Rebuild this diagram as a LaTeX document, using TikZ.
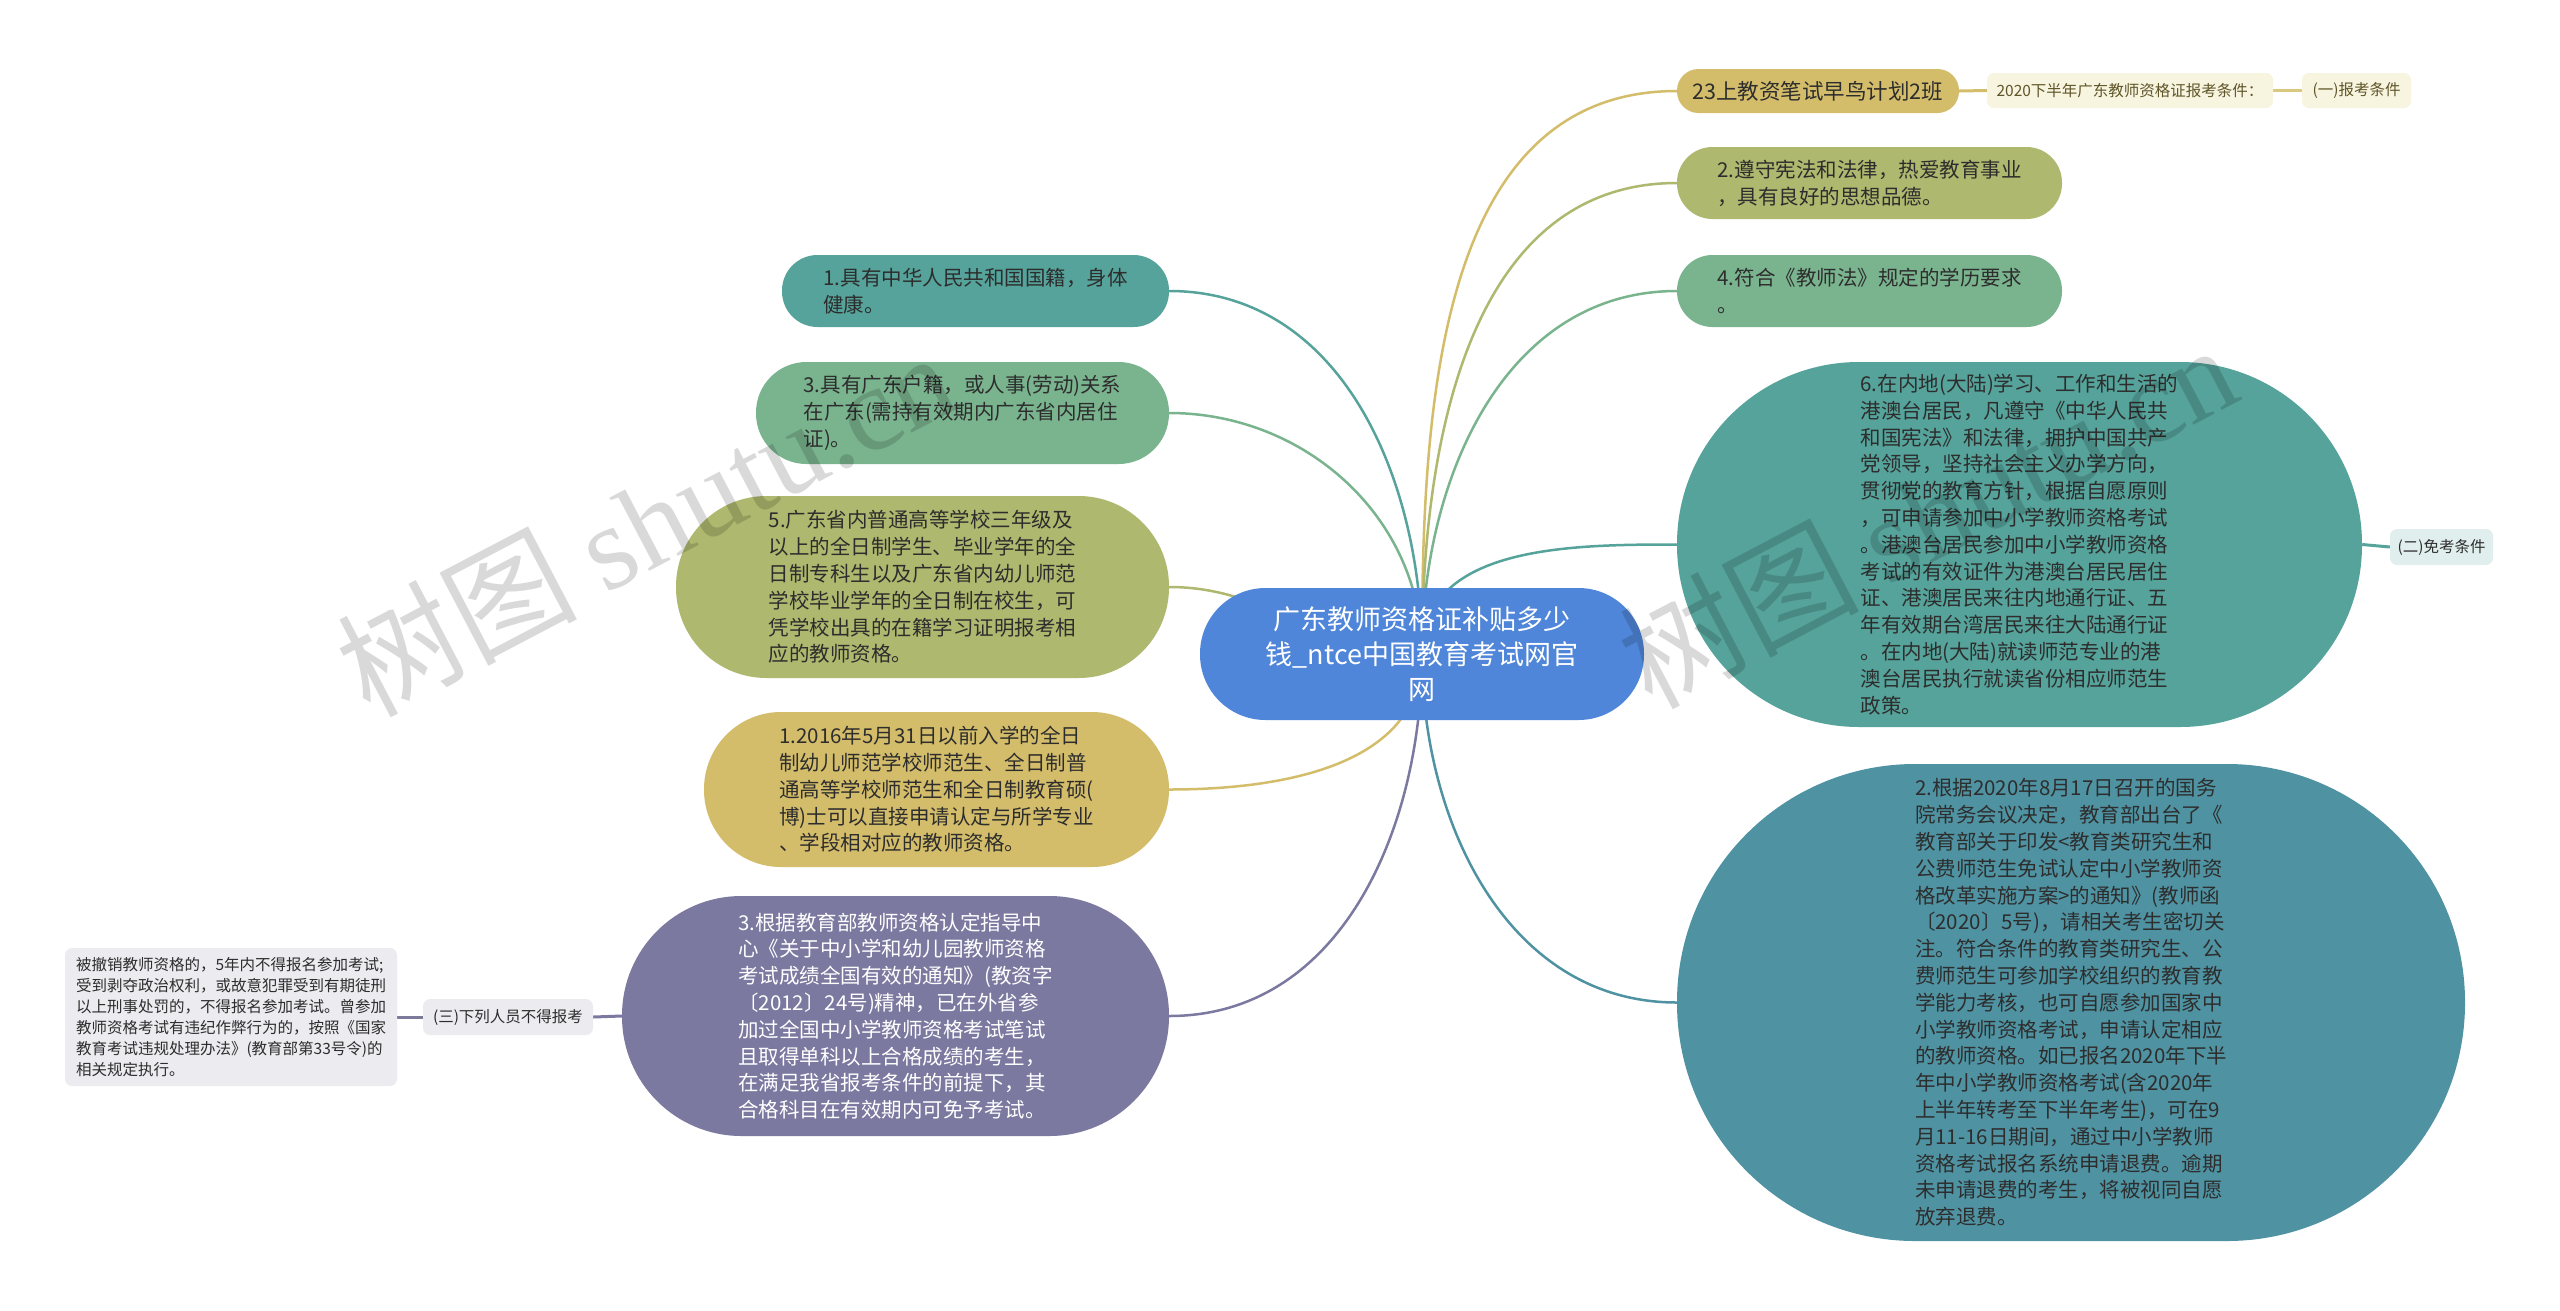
\documentclass[tikz,border=0pt]{standalone}
\usepackage{fontspec}
\setmainfont{Noto Sans CJK SC}
\newfontfamily\wmserif{Liberation Serif}
\usetikzlibrary{backgrounds}
\definecolor{cblue}{RGB}{79,134,217}
\definecolor{cgold}{RGB}{212,189,106}
\definecolor{colive}{RGB}{174,184,110}
\definecolor{cgreen}{RGB}{122,180,143}
\definecolor{cteal}{RGB}{85,163,154}
\definecolor{csteel}{RGB}{79,147,163}
\definecolor{cpurple}{RGB}{123,121,160}
\definecolor{ccream}{RGB}{247,244,224}
\definecolor{clteal}{RGB}{224,238,237}
\definecolor{clgray}{RGB}{235,235,240}
\definecolor{ctext}{RGB}{45,45,45}
\definecolor{coltext}{RGB}{95,85,40}
\tikzset{
  base/.style={rectangle, inner sep=0pt, align=left, text=ctext, font=\fontsize{20.5pt}{26.8pt}\selectfont},
  small/.style={rectangle, inner sep=0pt, align=left, text=ctext, font=\fontsize{15.5pt}{21pt}\selectfont, rounded corners=7pt},
  link/.style={line width=2.5pt},
  wm/.style={rotate=27.7, text=black, opacity=0.15, font=\fontsize{120pt}{120pt}\selectfont},
}
\begin{document}
\begin{tikzpicture}[x=1pt,y=1pt]
\useasboundingbox (0,0) rectangle (2560,-1310);

% central
\node[base, fill=cblue, text=white, align=center, font=\fontsize{27pt}{35pt}\selectfont,
  minimum width=444pt, minimum height=132pt, rounded corners=65.5pt] (c) at (1422,-654)
  {广东教师资格证补贴多少\\钱\_ntce中国教育考试网官\\网};

% right side
\node[base, fill=cgold, font=\fontsize{21.5pt}{26pt}\selectfont, minimum width=282pt, minimum height=44pt, rounded corners=21.5pt]
  (n23) at (1818,-91) {23上教资笔试早鸟计划2班};
\node[small, fill=ccream, text=coltext, minimum width=286pt, minimum height=35pt]
  (n2020) at (2130,-90.5) {2020下半年广东教师资格证报考条件：};
\node[small, fill=ccream, text=coltext, minimum width=109pt, minimum height=35pt]
  (nYi) at (2356.5,-90.5) {(一)报考条件};
\node[base, fill=colive, minimum width=385pt, minimum height=72pt, rounded corners=35.5pt]
  (n2zs) at (1869.5,-183) {2.遵守宪法和法律，热爱教育事业\\，具有良好的思想品德。};
\node[base, fill=cgreen, minimum width=385pt, minimum height=72pt, rounded corners=35.5pt]
  (n4) at (1869.5,-291) {4.符合《教师法》规定的学历要求\\。};
\node[base, fill=cteal, minimum width=685pt, minimum height=365pt, rounded corners=182pt]
  (n6) at (2019.5,-544.5) {6.在内地(大陆)学习、工作和生活的\\港澳台居民，凡遵守《中华人民共\\和国宪法》和法律，拥护中国共产\\党领导，坚持社会主义办学方向，\\贯彻党的教育方针，根据自愿原则\\，可申请参加中小学教师资格考试\\。港澳台居民参加中小学教师资格\\考试的有效证件为港澳台居民居住\\证、港澳居民来往内地通行证、五\\年有效期台湾居民来往大陆通行证\\。在内地(大陆)就读师范专业的港\\澳台居民执行就读省份相应师范生\\政策。};
\node[small, fill=clteal, minimum width=103pt, minimum height=36pt]
  (nEr) at (2441.5,-547) {(二)免考条件};
\node[base, fill=csteel, minimum width=788pt, minimum height=477pt, rounded corners=238pt]
  (n2gj) at (2071,-1002.5) {2.根据2020年8月17日召开的国务\\院常务会议决定，教育部出台了《\\教育部关于印发<教育类研究生和\\公费师范生免试认定中小学教师资\\格改革实施方案>的通知》(教师函\\〔2020〕5号)，请相关考生密切关\\注。符合条件的教育类研究生、公\\费师范生可参加学校组织的教育教\\学能力考核，也可自愿参加国家中\\小学教师资格考试，申请认定相应\\的教师资格。如已报名2020年下半\\年中小学教师资格考试(含2020年\\上半年转考至下半年考生)，可在9\\月11-16日期间，通过中小学教师\\资格考试报名系统申请退费。逾期\\未申请退费的考生，将被视同自愿\\放弃退费。};

% left side
\node[base, fill=cteal, minimum width=387pt, minimum height=72pt, rounded corners=35.5pt]
  (n1jy) at (975.5,-291) {1.具有中华人民共和国国籍，身体\\健康。};
\node[base, fill=cgreen, minimum width=413pt, minimum height=102pt, rounded corners=50.5pt]
  (n3jy) at (962.5,-413) {3.具有广东户籍，或人事(劳动)关系\\在广东(需持有效期内广东省内居住\\证)。};
\node[base, fill=colive, minimum width=493pt, minimum height=182pt, rounded corners=90.5pt]
  (n5) at (922.5,-587) {5.广东省内普通高等学校三年级及\\以上的全日制学生、毕业学年的全\\日制专科生以及广东省内幼儿师范\\学校毕业学年的全日制在校生，可\\凭学校出具的在籍学习证明报考相\\应的教师资格。};
\node[base, fill=cgold, minimum width=465pt, minimum height=155pt, rounded corners=77pt]
  (n2016) at (936.5,-789.5) {1.2016年5月31日以前入学的全日\\制幼儿师范学校师范生、全日制普\\通高等学校师范生和全日制教育硕(\\博)士可以直接申请认定与所学专业\\、学段相对应的教师资格。};
\node[base, fill=cpurple, text=white, minimum width=547pt, minimum height=240pt, rounded corners=119.5pt]
  (n3gj) at (895.5,-1016) {3.根据教育部教师资格认定指导中\\心《关于中小学和幼儿园教师资格\\考试成绩全国有效的通知》(教资字\\〔2012〕24号)精神，已在外省参\\加过全国中小学教师资格考试笔试\\且取得单科以上合格成绩的考生，\\在满足我省报考条件的前提下，其\\合格科目在有效期内可免予考试。};
\node[small, fill=clgray, minimum width=170pt, minimum height=36pt]
  (nSan) at (508,-1017) {(三)下列人员不得报考};
\node[small, fill=clgray, minimum width=332pt, minimum height=138pt]
  (nBei) at (231,-1017) {被撤销教师资格的，5年内不得报名参加考试;\\受到剥夺政治权利，或故意犯罪受到有期徒刑\\以上刑事处罚的，不得报名参加考试。曾参加\\教师资格考试有违纪作弊行为的，按照《国家\\教育考试违规处理办法》(教育部第33号令)的\\相关规定执行。};

% connectors (behind the nodes)
\begin{pgfonlayer}{background}
\fill[white] (0,0) rectangle (2560,-1310);
\draw[link, cgold]   (c.center) to[out=90,in=180] (n23.west);
\draw[link, colive]  (c.center) to[out=90,in=180] (n2zs.west);
\draw[link, cgreen]  (c.center) to[out=90,in=180] (n4.west);
\draw[link, cteal]   (c.center) to[out=90,in=180] (n6.west);
\draw[link, csteel]  (c.center) to[out=-90,in=180] (n2gj.west);
\draw[link, cteal]   (c.center) to[out=90,in=0] (n1jy.east);
\draw[link, cgreen]  (c.center) to[out=90,in=0] (n3jy.east);
\draw[link, colive]  (c.center) to[out=180,in=0] (n5.east);
\draw[link, cgold]   (c.center) to[out=-90,in=0] (n2016.east);
\draw[link, cpurple] (c.center) to[out=-90,in=0] (n3gj.east);
\draw[link, cgold, line width=3pt] (n23.east) -- (n2020.west);
\draw[link, cgold!85!white, line width=3pt] (n2020.east) -- (nYi.west);
\draw[link, cteal, line width=3pt] (n6.east) -- (nEr.west);
\draw[link, cpurple, line width=3pt] (n3gj.west) -- (nSan.east);
\draw[link, cpurple!80!gray, line width=3pt] (nSan.west) -- (nBei.east);
\end{pgfonlayer}

% watermarks
\node[wm] (wm1) at (645,-522) {树图 {\wmserif shutu.cn}};
\node[wm] (wm2) at (1927,-514) {树图 {\wmserif shutu.cn}};
\end{tikzpicture}
\end{document}
